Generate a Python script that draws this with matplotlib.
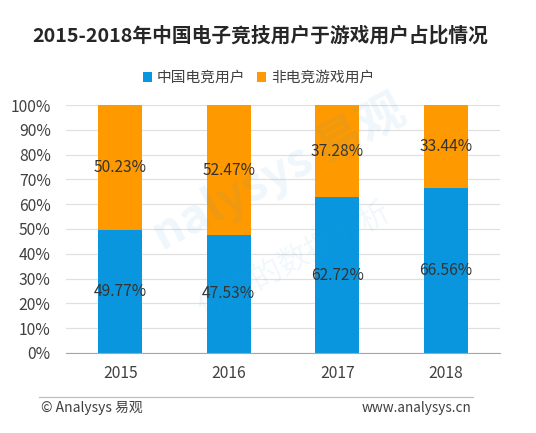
import matplotlib
matplotlib.use("Agg")
import matplotlib.pyplot as plt
import numpy as np

plt.rcParams["font.family"] = ["Noto Sans CJK SC", "DejaVu Sans"]

YEARS = ["2015", "2016", "2017", "2018"]
ESPORTS = [49.77, 47.53, 62.72, 66.56]
NON_ESPORTS = [50.23, 52.47, 37.28, 33.44]
SERIES_LABELS = ["中国电竞用户", "非电竞游戏用户"]
TITLE = "2015-2018年中国电子竞技用户于游戏用户占比情况"

BLUE = "#0A96DE"
ORANGE = "#FF9900"
TEXT = "#404040"

fig = plt.figure(figsize=(5.36, 4.33), dpi=100)
ax = fig.add_axes([0.123, 0.185, 0.81, 0.5725])

x = np.arange(len(YEARS))
es = np.array(ESPORTS) / 100
ne = np.array(NON_ESPORTS) / 100
width = 0.405

ax.set_axisbelow(True)
ax.yaxis.grid(True, color="#E0E0E0", linewidth=0.9)
b1 = ax.bar(x, es, width, color=BLUE, label=SERIES_LABELS[0], zorder=2)
b2 = ax.bar(x, ne, width, bottom=es, color=ORANGE, label=SERIES_LABELS[1], zorder=2)

for i in range(len(YEARS)):
    ax.text(x[i], es[i] / 2, f"{ESPORTS[i]:.2f}%", ha="center", va="center",
            fontsize=11.2, color="#333333", zorder=4)
    ax.text(x[i], es[i] + ne[i] / 2, f"{NON_ESPORTS[i]:.2f}%", ha="center", va="center",
            fontsize=11.2, color="#333333", zorder=4)

ax.set_xlim(-0.5, len(YEARS) - 0.5)
ax.set_ylim(0, 1)
ax.set_yticks(np.arange(0, 1.01, 0.1))
ax.set_yticklabels([f"{int(round(v * 100))}%" for v in np.arange(0, 1.01, 0.1)])
ax.set_xticks(x)
ax.set_xticklabels(YEARS)
ax.tick_params(axis="both", length=0, labelsize=11.3, colors=TEXT)
ax.tick_params(axis="x", pad=9)
ax.tick_params(axis="y", pad=11)
for s in ["top", "right", "left"]:
    ax.spines[s].set_visible(False)
ax.spines["bottom"].set_color("#A6A6A6")

# faint watermark
fig.text(0.52, 0.60, "nalysys 易观", fontsize=34, fontweight="bold", color="#2A9AD8",
         alpha=0.08, rotation=28, ha="center", va="center")
fig.text(0.55, 0.40, "你要的数据分析", fontsize=22, color="#2A9AD8",
         alpha=0.07, rotation=28, ha="center", va="center")

fig.text(0.485, 0.917, TITLE, ha="center", va="center", fontsize=14.2,
         fontweight="bold", color="#262626")

fig.legend(handles=[b1, b2], loc="center", bbox_to_anchor=(0.482, 0.82), ncol=2,
           frameon=False, fontsize=10.6, handlelength=0.65, handleheight=0.65,
           handletextpad=0.3, columnspacing=0.8, labelcolor=TEXT)

fig.add_artist(plt.Line2D([0.073, 0.882], [0.083, 0.083], color="#BFBFBF", linewidth=0.9))
fig.text(0.076, 0.057, "© Analysys 易观", ha="left", va="center", fontsize=10, color=TEXT)
fig.text(0.879, 0.057, "www.analysys.cn", ha="right", va="center", fontsize=9.8, color=TEXT)

fig.savefig("out.png", dpi=100)
